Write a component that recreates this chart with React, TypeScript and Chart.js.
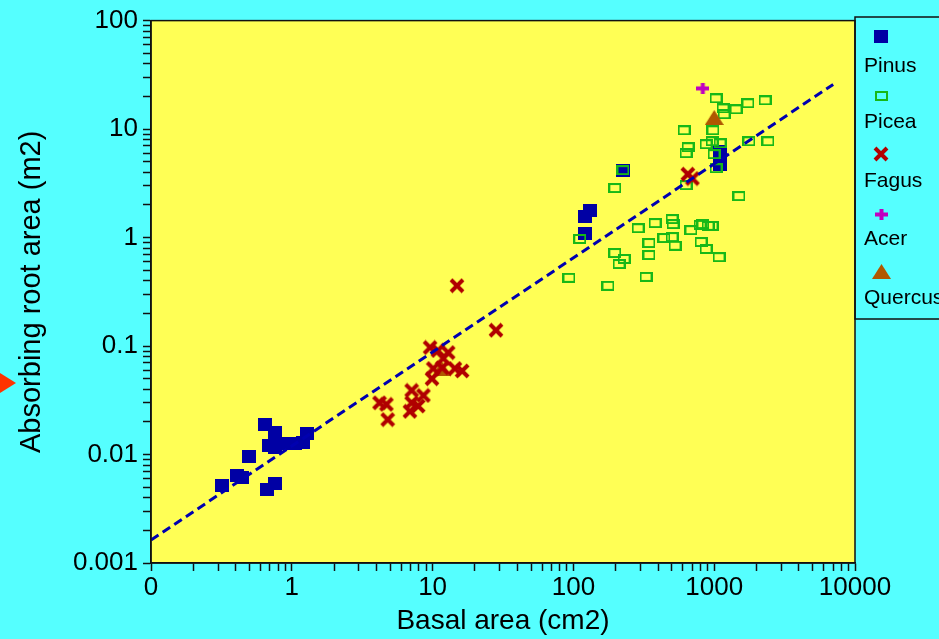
import React, { useEffect, useRef } from 'react';
import { Chart, registerables } from 'chart.js';

Chart.register(...registerables);

// ---- data ----
const pinusX = [0.32, 0.41, 0.44, 0.5, 0.64, 0.76, 0.67, 0.76, 0.69, 0.82, 0.94, 0.76, 1.05, 1.2, 1.28, 121, 121, 131, 225, 1100, 1100, 1100];
const pinusY = [0.0052, 0.0064, 0.0062, 0.0096, 0.019, 0.016, 0.0048, 0.0054, 0.0122, 0.0127, 0.0127, 0.0115, 0.0127, 0.0129, 0.0157, 1.1, 1.55, 1.76, 4.18, 6.2, 5.3, 4.7];

const piceaX = [1030, 1155, 1174, 1429, 1738, 2296, 611, 980, 652, 631, 875, 965, 1100, 997, 1766, 2410, 1030, 631, 197, 1500, 111, 288, 380, 502, 510, 684, 832, 904, 965, 793, 440, 502, 527, 344, 806, 875, 1082, 197, 229, 211, 344, 93, 176, 328, 225];
const piceaY = [19.2, 15.5, 13.7, 15.2, 17.3, 18.4, 9.75, 9.75, 6.8, 6.0, 7.25, 7.72, 7.4, 5.87, 7.72, 7.72, 4.36, 3.04, 2.86, 2.41, 0.97, 1.22, 1.36, 1.48, 1.33, 1.17, 1.33, 1.28, 1.28, 1.31, 0.99, 1.01, 0.84, 0.89, 0.91, 0.785, 0.66, 0.72, 0.635, 0.57, 0.69, 0.425, 0.359, 0.434, 4.18];

const fagusX = [14.9, 28.2, 9.6, 10.9, 12.9, 11.9, 10.1, 11.7, 14.4, 16.2, 9.9, 7.1, 8.6, 4.2, 4.7, 7.1, 7.9, 6.9, 4.8, 650, 700];
const fagusY = [0.36, 0.14, 0.097, 0.091, 0.087, 0.077, 0.062, 0.063, 0.062, 0.059, 0.05, 0.039, 0.035, 0.03, 0.029, 0.03, 0.028, 0.025, 0.021, 3.84, 3.5];

const acerX = [830];
const acerY = [23.7];

const quercusX = [1000, 11.6];
const quercusY = [12.8, 0.062];

const fitX = [0.1, 7000];
const fitY = [0.00163, 25.8];

const xDecades = [0.1, 1, 10, 100, 1000, 10000];
const xTickLabels = ['0', '1', '10', '100', '1000', '10000'];
const yDecades = [0.001, 0.01, 0.1, 1, 10, 100];
const yTickLabels = ['0.001', '0.01', '0.1', '1', '10', '100'];
const minorSteps = [1, 2, 3, 4, 5, 6, 7, 8, 9];

const seriesNames = ['Pinus', 'Picea', 'Fagus', 'Acer', 'Quercus'];
const xTitle = 'Basal area (cm2)';
const yTitle = 'Absorbing root area (m2)';

// ---- styles ----
const CYAN = '#55FFFF';
const YELLOW = '#FFFF55';
const BLUE = '#0000A4';
const GREEN = '#17B817';
const RED = '#B00000';
const MAGENTA = '#C000C0';
const BROWN = '#B05800';
const FONT = "'Liberation Sans', Arial, Helvetica, sans-serif";

function zip(xs: number[], ys: number[]) {
  return xs.map((x, i) => ({ x, y: ys[i] }));
}

function logTicks(decades: number[]) {
  const out: { value: number }[] = [];
  for (let i = 0; i < decades.length - 1; i++) {
    for (const m of minorSteps) out.push({ value: decades[i] * m });
  }
  out.push({ value: decades[decades.length - 1] });
  return out;
}

function labelFor(v: number, decades: number[], labels: string[]) {
  for (let i = 0; i < decades.length; i++) {
    if (Math.abs(Math.log10(v) - Math.log10(decades[i])) < 1e-6) return labels[i];
  }
  return '';
}

function makeCanvas(w: number, h: number, draw: (c: CanvasRenderingContext2D) => void) {
  const cv = document.createElement('canvas');
  cv.width = w;
  cv.height = h;
  const c = cv.getContext('2d')!;
  draw(c);
  return cv;
}

function makeMarkers() {
  const pinus = makeCanvas(14, 13, (c) => {
    c.fillStyle = BLUE;
    c.fillRect(0, 0, 14, 13);
  });
  const picea = makeCanvas(13, 10, (c) => {
    c.strokeStyle = GREEN;
    c.lineWidth = 2;
    c.strokeRect(1, 1, 11, 8);
  });
  const fagus = makeCanvas(16, 16, (c) => {
    c.strokeStyle = RED;
    c.lineWidth = 4;
    c.beginPath();
    c.moveTo(2, 2);
    c.lineTo(14, 14);
    c.moveTo(14, 2);
    c.lineTo(2, 14);
    c.stroke();
  });
  const acer = makeCanvas(13, 11, (c) => {
    c.fillStyle = MAGENTA;
    c.fillRect(0, 3.5, 13, 4);
    c.fillRect(4.5, 0, 4, 11);
  });
  const quercus = makeCanvas(19, 15, (c) => {
    c.fillStyle = BROWN;
    c.beginPath();
    c.moveTo(9.5, 0);
    c.lineTo(19, 15);
    c.lineTo(0, 15);
    c.closePath();
    c.fill();
  });
  return { pinus, picea, fagus, acer, quercus };
}

export default function App() {
  const ref = useRef<HTMLCanvasElement | null>(null);

  useEffect(() => {
    if (!ref.current) return;
    const mk = makeMarkers();
    const legendMarkers = [mk.pinus, mk.picea, mk.fagus, mk.acer, mk.quercus];

    const decor = {
      id: 'decor',
      beforeDraw(chart: any) {
        const { ctx, chartArea: a } = chart;
        ctx.save();
        ctx.fillStyle = CYAN;
        ctx.fillRect(0, 0, chart.width, chart.height);
        ctx.fillStyle = YELLOW;
        ctx.fillRect(a.left, a.top, a.right - a.left, a.bottom - a.top);
        ctx.restore();
      },
      afterDraw(chart: any) {
        const { ctx, chartArea: a } = chart;
        ctx.save();
        // plot frame
        ctx.strokeStyle = '#111';
        ctx.lineWidth = 1.5;
        ctx.strokeRect(a.left, a.top, a.right - a.left, a.bottom - a.top);
        // legend box
        ctx.strokeRect(a.right, 17, 200, 302);
        const symY = [36, 96, 154, 214, 271];
        const txtY = [72, 128, 187, 245, 304];
        ctx.font = `21px ${FONT}`;
        ctx.fillStyle = '#000';
        ctx.textBaseline = 'alphabetic';
        ctx.textAlign = 'left';
        seriesNames.forEach((n, i) => {
          const m = legendMarkers[i];
          ctx.drawImage(m, Math.round(881 - m.width / 2), Math.round(symY[i] - m.height / 2));
          ctx.fillText(n, 864, txtY[i]);
        });
        // red arrow marker at left
        ctx.fillStyle = '#FF3300';
        ctx.beginPath();
        ctx.moveTo(0, 373);
        ctx.lineTo(16, 383);
        ctx.lineTo(0, 393);
        ctx.closePath();
        ctx.fill();
        ctx.restore();
      },
    };

    const tickFont = { family: FONT, size: 26 };

    const chart = new Chart(ref.current, {
      type: 'scatter',
      data: {
        datasets: [
          {
            type: 'line',
            label: 'fit',
            data: zip(fitX, fitY),
            borderColor: '#0000B0',
            borderWidth: 3,
            borderDash: [9, 5],
            pointRadius: 0,
            showLine: true,
            fill: false,
            order: 0,
          } as any,
          { label: seriesNames[3], data: zip(acerX, acerY), pointStyle: mk.acer, order: 1 },
          { label: seriesNames[2], data: zip(fagusX, fagusY), pointStyle: mk.fagus, order: 2 },
          { label: seriesNames[4], data: zip(quercusX, quercusY), pointStyle: mk.quercus, order: 3 },
          { label: seriesNames[1], data: zip(piceaX, piceaY), pointStyle: mk.picea, order: 4 },
          { label: seriesNames[0], data: zip(pinusX, pinusY), pointStyle: mk.pinus, order: 5 },
        ],
      },
      options: {
        responsive: false,
        animation: false,
        events: [],
        layout: { padding: { left: 0, top: 19, right: 84, bottom: 0 } },
        plugins: { legend: { display: false }, tooltip: { enabled: false } },
        scales: {
          x: {
            type: 'logarithmic',
            min: 0.1,
            max: 10000,
            afterBuildTicks: (s: any) => {
              s.ticks = logTicks(xDecades);
            },
            afterFit: (s: any) => {
              s.height = 76;
            },
            grid: { drawOnChartArea: false, drawTicks: true, tickLength: 8, tickColor: '#111', tickWidth: 1.5 },
            border: { display: true, color: '#111', width: 1.5 },
            ticks: {
              autoSkip: false,
              maxRotation: 0,
              minRotation: 0,
              padding: 1,
              color: '#000',
              font: tickFont,
              callback: (v: any) => labelFor(Number(v), xDecades, xTickLabels),
            },
            title: { display: true, text: xTitle, color: '#000', font: { family: FONT, size: 28 }, padding: { top: 0, bottom: 1 } },
          },
          y: {
            type: 'logarithmic',
            min: 0.001,
            max: 100,
            afterBuildTicks: (s: any) => {
              s.ticks = logTicks(yDecades);
            },
            afterFit: (s: any) => {
              s.width = 151;
            },
            grid: { drawOnChartArea: false, drawTicks: true, tickLength: 8, tickColor: '#111', tickWidth: 1.5 },
            border: { display: true, color: '#111', width: 1.5 },
            ticks: {
              autoSkip: false,
              padding: 5,
              color: '#000',
              font: tickFont,
              callback: (v: any) => labelFor(Number(v), yDecades, yTickLabels),
            },
            title: { display: true, text: yTitle, color: '#000', font: { family: FONT, size: 29 }, padding: { top: 15, bottom: 0 } },
          },
        },
      } as any,
      plugins: [decor],
    });

    return () => chart.destroy();
  }, []);

  return (
    <div style={{ position: 'fixed', left: 0, top: 0, width: 939, height: 639, background: CYAN, overflow: 'hidden' }}>
      <canvas ref={ref} width={939} height={639} style={{ display: 'block', width: 939, height: 639 }} />
    </div>
  );
}
